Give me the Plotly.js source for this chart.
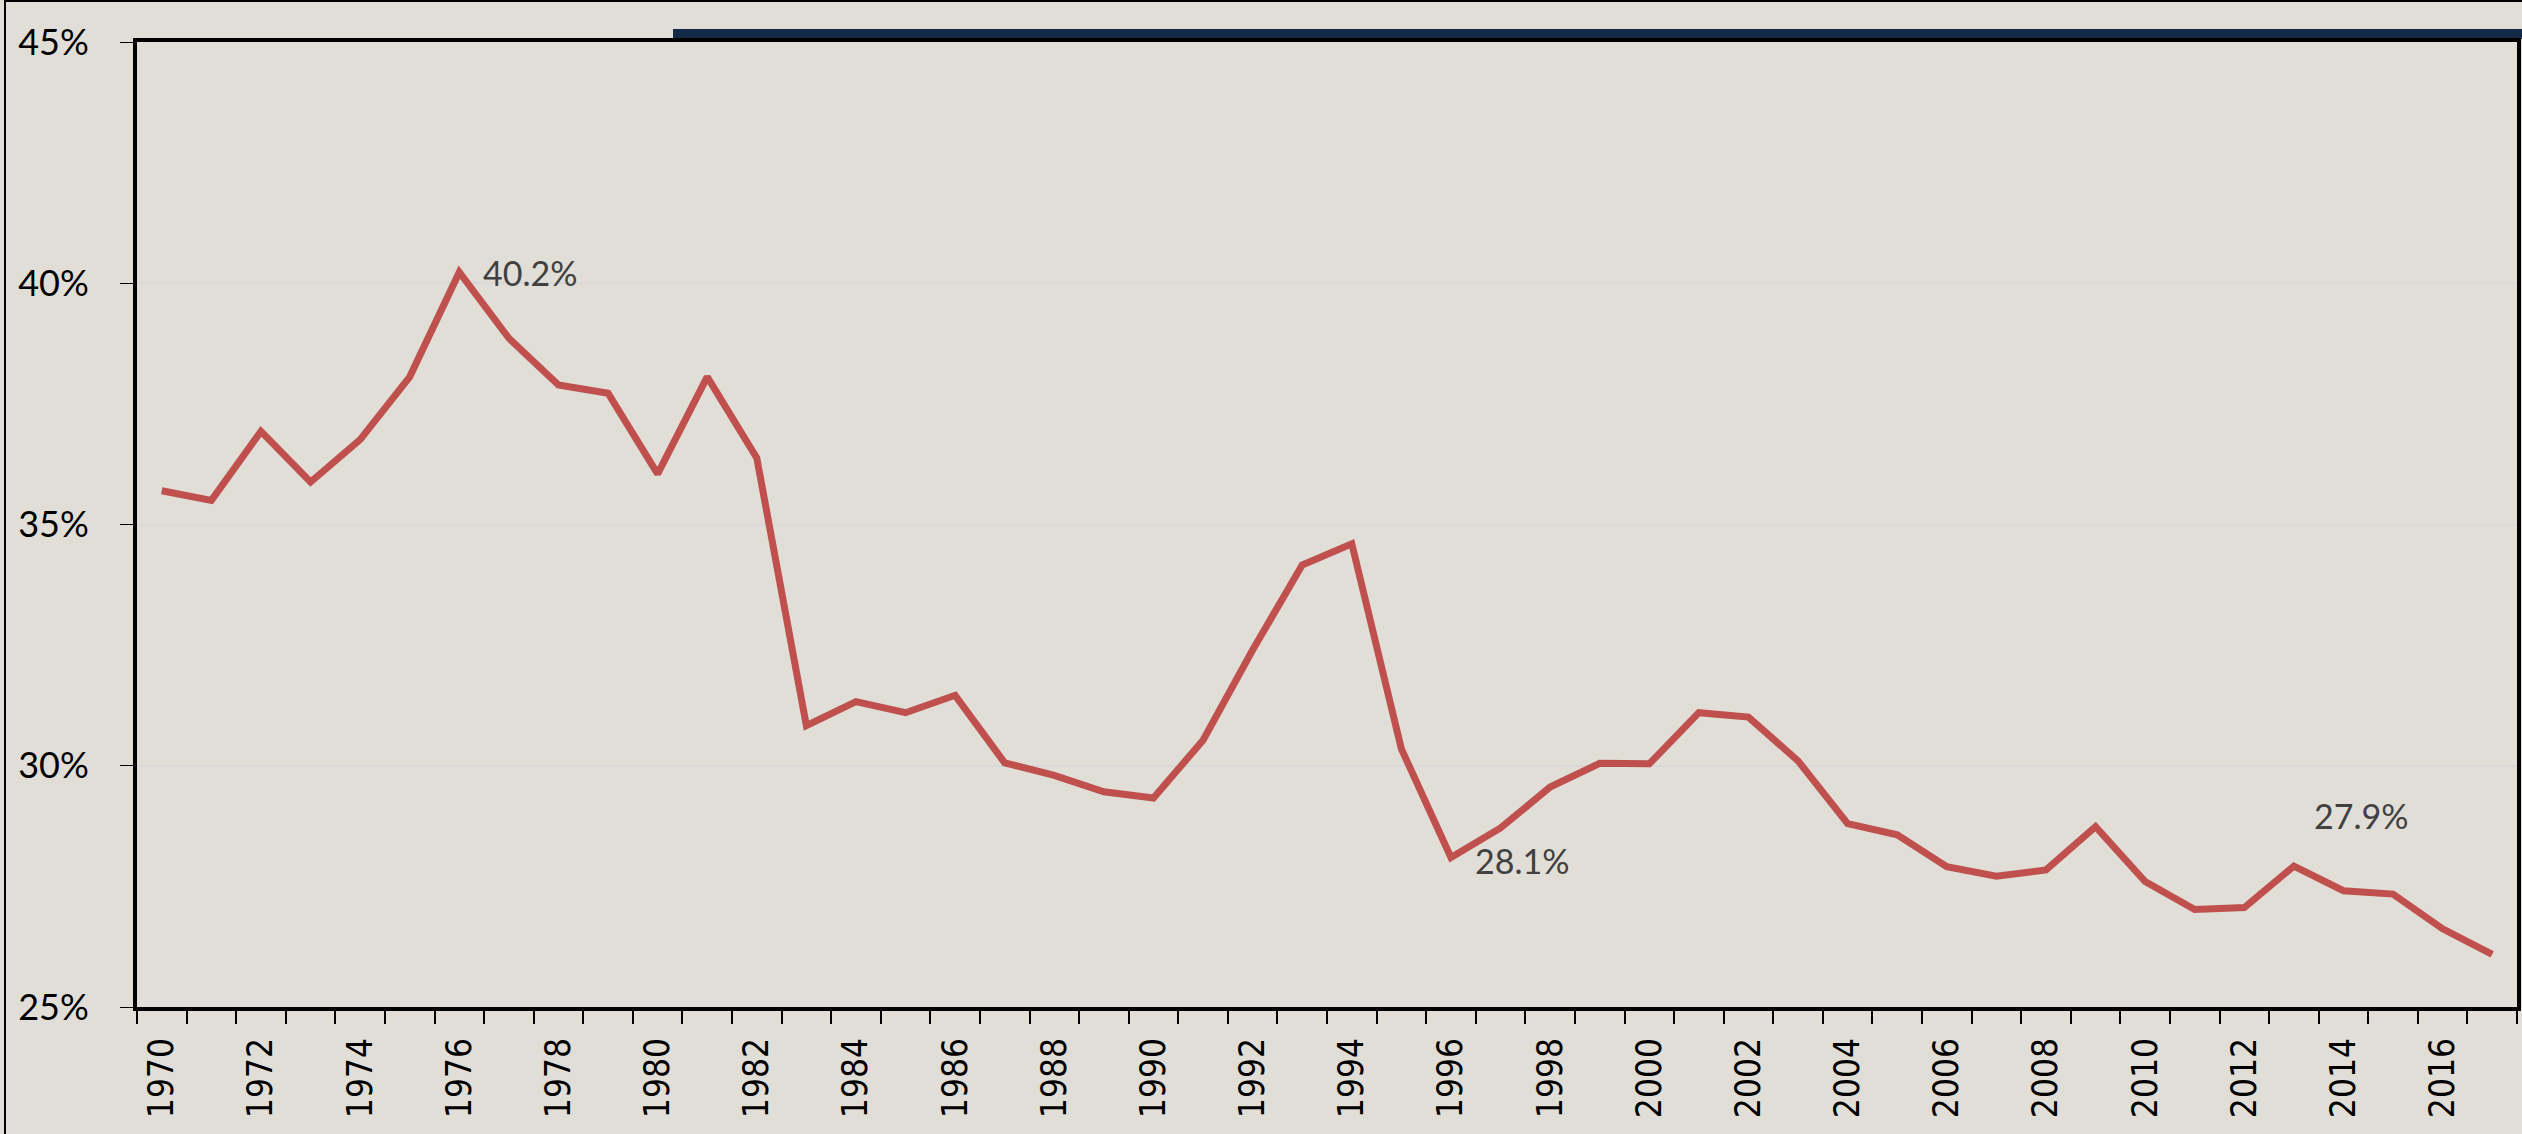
<!DOCTYPE html>
<html>
<head>
<meta charset="utf-8">
<script src="https://cdn.plot.ly/plotly-3.0.1.min.js"></script>
<style>
  html, body { margin: 0; padding: 0; background: #E0DED7; }
  #chart { width: 2522px; height: 1134px; }
</style>
</head>
<body>
<div id="chart"></div>
<script>
const years = [1970, 1971, 1972, 1973, 1974, 1975, 1976, 1977, 1978, 1979,
               1980, 1981, 1982, 1983, 1984, 1985, 1986, 1987, 1988, 1989,
               1990, 1991, 1992, 1993, 1994, 1995, 1996, 1997, 1998, 1999,
               2000, 2001, 2002, 2003, 2004, 2005, 2006, 2007, 2008, 2009,
               2010, 2011, 2012, 2013, 2014, 2015, 2016, 2017];
const share = [35.70, 35.50, 36.93, 35.88, 36.76, 38.06, 40.23, 38.86, 37.89, 37.72,
               36.05, 38.06, 36.38, 30.83, 31.33, 31.10, 31.46, 30.06, 29.80, 29.46,
               29.33, 30.53, 32.40, 34.16, 34.60, 30.35, 28.10, 28.71, 29.56, 30.05,
               30.04, 31.10, 31.01, 30.10, 28.80, 28.57, 27.91, 27.71, 27.84, 28.74,
               27.60, 27.02, 27.06, 27.92, 27.41, 27.34, 26.62, 26.09];

// every other year is labelled
const xTickYears = [1970, 1972, 1974, 1976, 1978, 1980, 1982, 1984, 1986, 1988,
                    1990, 1992, 1994, 1996, 1998, 2000, 2002, 2004, 2006, 2008,
                    2010, 2012, 2014, 2016];
const yTicks = [25, 30, 35, 40, 45];

// points with value labels
const labelYears = [1976, 1996, 2013];
const labelPos   = [{ ay: 'middle', dx: 22, dy: 0 },
                    { ay: 'middle', dx: 22, dy: -3 },
                    { ay: 'bottom', dx: 18, dy: 28 }];

const W = 2522, H = 1134;
const M = { l: 137, r: 5, t: 42, b: 127 };

// pixel -> paper coords (for decorations only)
const px = x => (x - M.l) / (W - M.l - M.r);
const py = y => (H - M.b - y) / (H - M.t - M.b);

const annotations = labelYears.map((yr, i) => {
    const v = share[years.indexOf(yr)];
    return {
        x: yr, y: v, xref: 'x', yref: 'y',
        text: v.toFixed(1) + '%',
        showarrow: false,
        xanchor: 'left', yanchor: labelPos[i].ay,
        xshift: labelPos[i].dx, yshift: labelPos[i].dy,
        font: { family: 'Lato', size: 34, color: '#404040' }
    };
});

const shapes = [
    // navy header strip
    { type: 'rect', xref: 'paper', yref: 'paper', layer: 'below',
      x0: px(673), x1: px(W + 2), y0: py(39), y1: py(29),
      fillcolor: '#152A47', line: { width: 0 } },
    // outer frame
    { type: 'line', xref: 'paper', yref: 'paper',
      x0: px(5), x1: px(5), y0: py(0), y1: py(H),
      line: { color: '#000', width: 2 } },
    { type: 'line', xref: 'paper', yref: 'paper',
      x0: px(5), x1: px(W), y0: py(1), y1: py(1),
      line: { color: '#000', width: 2 } }
];

const trace = {
    x: years, y: share,
    type: 'scatter', mode: 'lines',
    line: { color: '#C0504D', width: 7 },
    hoverinfo: 'skip'
};

const layout = {
    width: W, height: H,
    margin: M,
    paper_bgcolor: '#E0DED7', plot_bgcolor: '#E0DED7',
    showlegend: false,
    xaxis: {
        type: 'linear',
        range: [1969.5, 2017.5],
        tickmode: 'array', tickvals: xTickYears, ticktext: xTickYears.map(String),
        tickangle: -90,
        ticks: '',
        ticklabelstandoff: 13,
        tickfont: { family: 'DejaVu Sans Condensed, DejaVu Sans', size: 35, color: '#000' },
        minor: { ticks: 'outside', ticklen: 13, tickwidth: 2, tickcolor: '#000',
                 tickmode: 'linear', tick0: 1969.5, dtick: 1, showgrid: false },
        showgrid: false, zeroline: false,
        showline: true, mirror: true, linecolor: '#000', linewidth: 4
    },
    yaxis: {
        range: [25, 45],
        tickmode: 'array', tickvals: yTicks, ticktext: yTicks.map(v => v + '%'),
        ticks: 'outside', ticklen: 13, tickwidth: 1, tickcolor: '#000',
        ticklabelstandoff: 24,
        tickfont: { family: 'Lato', size: 36, color: '#000' },
        showgrid: true, gridcolor: '#D8D8D8', gridwidth: 2,
        zeroline: false,
        showline: true, mirror: true, linecolor: '#000', linewidth: 4
    },
    annotations: annotations,
    shapes: shapes
};

Plotly.newPlot('chart', [trace], layout, { displayModeBar: false, staticPlot: true });
</script>
</body>
</html>
